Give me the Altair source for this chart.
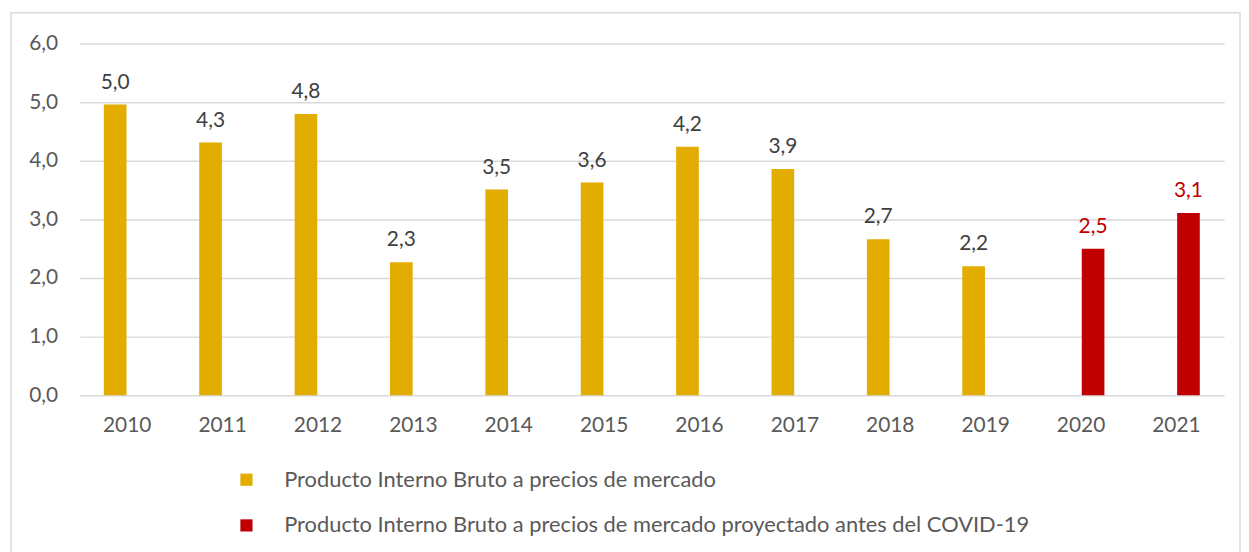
import altair as alt
import pandas as pd

years = ["2010", "2011", "2012", "2013", "2014", "2015", "2016", "2017", "2018", "2019", "2020", "2021"]
pib = [4.96, 4.31, 4.80, 2.27, 3.51, 3.63, 4.24, 3.86, 2.66, 2.20, None, None]
proj = [None, None, None, None, None, None, None, None, None, None, 2.50, 3.11]
series = [
    "Producto Interno Bruto a precios de mercado",
    "Producto Interno Bruto a precios de mercado proyectado antes del COVID-19",
]
colors = ["#E2AC00", "#C00000"]
label_colors = ["#404040", "#C00000"]

rows = []
for y, a, b in zip(years, pib, proj):
    if a is not None:
        rows.append({"year": y, "serie": series[0], "value": a})
    if b is not None:
        rows.append({"year": y, "serie": series[1], "value": b})
df = pd.DataFrame(rows)

FONT = "Lato"
GRID = "#D9D9D9"
TXT = "#595959"

x = alt.X("year:N", sort=years,
          scale=alt.Scale(paddingInner=0.51, paddingOuter=0.255),
          axis=alt.Axis(title=None, labelAngle=0, ticks=False, domain=False,
                        labelPadding=19, labelFontSize=21, labelColor=TXT, labelFont=FONT))
xo = alt.XOffset("serie:N", sort=series,
                 scale=alt.Scale(domain=series, paddingInner=0.06))
yenc = alt.Y("value:Q",
             scale=alt.Scale(domain=[0, 6]),
             axis=alt.Axis(title=None, values=[0, 1, 2, 3, 4, 5, 6], ticks=False, domain=False,
                           gridColor=GRID, gridWidth=1.5, labelPadding=22, labelFontSize=21,
                           labelColor=TXT, labelFont=FONT,
                           labelExpr="replace(format(datum.value, '.1f'), '.', ',')"))

bars = alt.Chart(df).mark_bar().encode(
    x=x, xOffset=xo, y=yenc,
    color=alt.Color("serie:N", sort=series,
                    scale=alt.Scale(domain=series, range=colors),
                    legend=alt.Legend(title=None, orient="none", direction="vertical",
                                      legendX=157, legendY=428, symbolType="square",
                                      symbolSize=150, symbolStrokeWidth=0, labelOffset=27,
                                      rowPadding=24, labelFontSize=22, labelColor=TXT,
                                      labelFont=FONT, labelLimit=1000)),
)

labels = alt.Chart(df).transform_calculate(
    lab="replace(format(datum.value, '.1f'), '.', ',')"
).mark_text(baseline="bottom", dy=-12, fontSize=21, font=FONT).encode(
    x=x, xOffset=xo, y=alt.Y("value:Q"),
    text="lab:N",
    color=alt.Color("serie:N", scale=alt.Scale(domain=series, range=label_colors), legend=None),
)

border = alt.Chart(pd.DataFrame({"k": [0]})).mark_rect(
    fill=None, stroke=GRID, strokeWidth=1.5
).encode(x=alt.value(-69), x2=alt.value(1168), y=alt.value(-31), y2=alt.value(540))

chart = alt.layer(border, bars, labels).resolve_scale(color="independent").properties(
    width=1152, height=354,
    autosize=alt.AutoSizeParams(type="none"),
    padding={"left": 72, "top": 34, "right": 17, "bottom": 156},
).configure_view(stroke=None)

chart.save("out.html", embed_options={"renderer": "svg", "actions": False})
